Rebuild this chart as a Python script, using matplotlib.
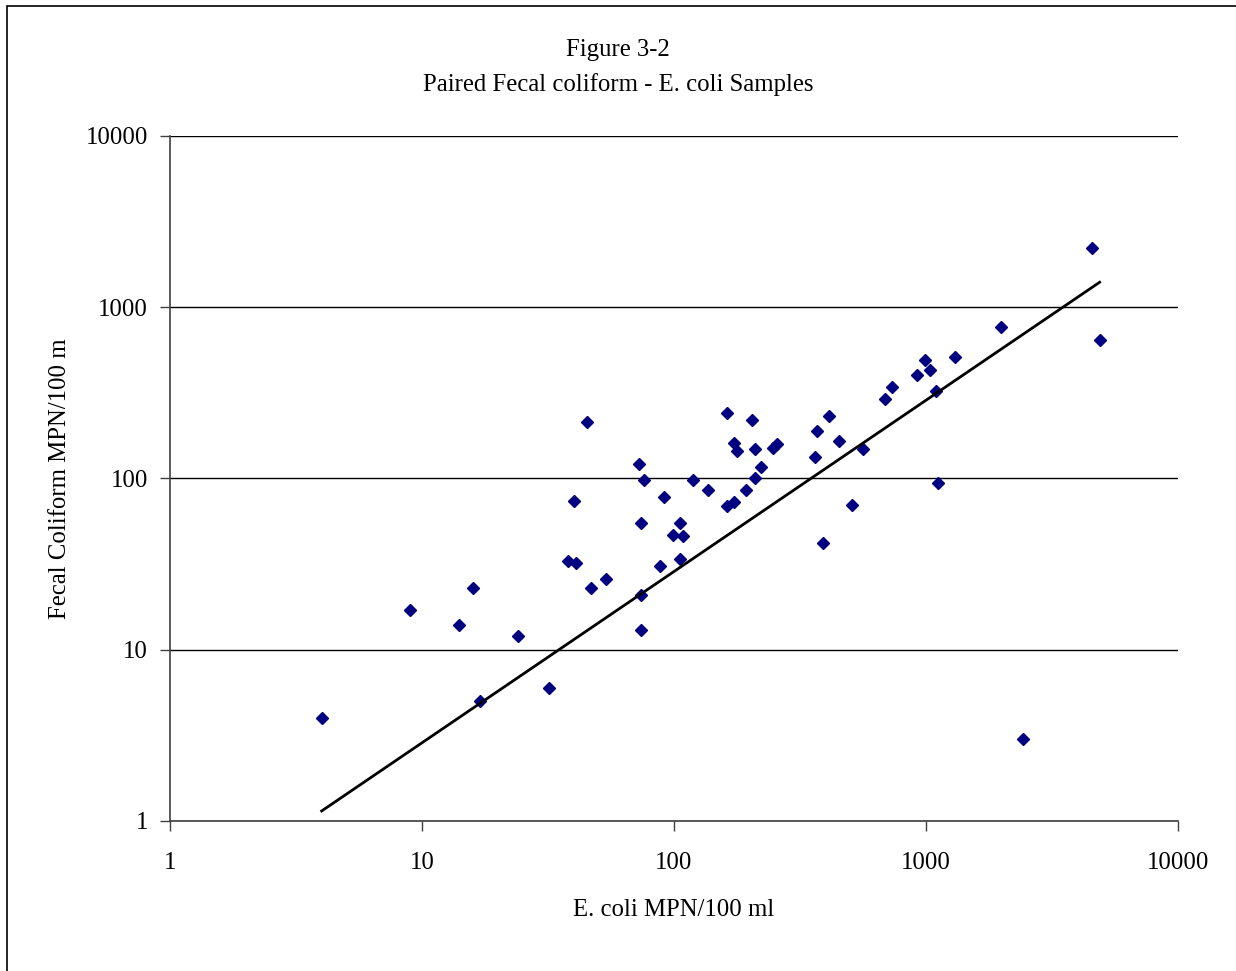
import numpy as np
import matplotlib
matplotlib.use("Agg")
import matplotlib.pyplot as plt
from matplotlib.patches import Rectangle

# paired samples, MPN/100 ml
ecoli = [4, 9, 14, 16, 17, 24, 32, 38, 40, 41, 45, 47, 54, 73, 74, 74, 74, 76,
         88, 91, 99, 106, 106, 109, 119, 136, 163, 163, 173, 173, 178, 205, 210,
         193, 210, 221, 248, 257, 368, 363, 413, 453, 507, 391, 561, 689, 735,
         1985, 4546, 4890, 1303, 991, 918, 1038, 1096, 1119, 2420]
fecal = [4, 17, 14, 23, 5, 12, 6, 33, 74, 32, 213, 23, 26, 122, 55, 21, 13, 98,
         31, 78, 47, 55, 34, 46, 98, 86, 242, 69, 73, 161, 145, 218, 149,
         86, 100, 116, 150, 159, 190, 133, 232, 166, 70, 42, 148, 290, 341,
         770, 2228, 644, 514, 492, 402, 430, 324, 94, 3]

# power trendline y = a * x^b
trend_a = 0.286
trend_b = 1.0

decades = [1, 10, 100, 1000, 10000]
tick_labels = ["1", "10", "100", "1000", "10000"]

plt.rcParams['font.family'] = ['Liberation Serif', 'DejaVu Serif']
fs = 17.8

fig = plt.figure(figsize=(12.36, 9.71), dpi=100)
ax = fig.add_axes([0.1375, 0.1545, 0.8155, 0.7055])

ax.set_xscale('log')
ax.set_yscale('log')
ax.set_xlim(1, 10000)
ax.set_ylim(1, 10000)

ax.yaxis.grid(True, color='black', linewidth=1.0)
ax.set_axisbelow(True)

ax.plot(ecoli, fecal, linestyle='None', marker='D', markersize=5.8,
        color='#000080', zorder=3)

xt = np.geomspace(min(ecoli), max(ecoli), 100)
ax.plot(xt, trend_a * xt ** trend_b, color='black', linewidth=2.0, zorder=4)

ax.set_xticks(decades)
ax.set_xticklabels(tick_labels)
ax.set_yticks(decades)
ax.set_yticklabels(tick_labels)
ax.minorticks_off()
ax.tick_params(direction='out', length=7, width=1, color='#404040',
               labelsize=fs)
ax.tick_params(axis='x', pad=15)
ax.tick_params(axis='y', pad=9)

for side in ['top', 'right']:
    ax.spines[side].set_visible(False)
for side in ['left', 'bottom']:
    ax.spines[side].set_color('#404040')
    ax.spines[side].set_linewidth(1.2)

ax.set_xlabel('E. coli MPN/100 ml', fontsize=fs, labelpad=18)
ax.set_ylabel('Fecal Coliform MPN/100 m', fontsize=fs, labelpad=10)

fig.text(0.5, 1 - 50 / 971, 'Figure 3-2', ha='center', va='center', fontsize=fs)
fig.text(0.5, 1 - 85 / 971, 'Paired Fecal coliform - E. coli Samples',
         ha='center', va='center', fontsize=fs)

# chart area border
fig.patches.append(Rectangle((7 / 1236, -0.1), 1.2, 1 - 6 / 971 + 0.1,
                             transform=fig.transFigure, fill=False,
                             edgecolor='black', linewidth=1.2))

fig.savefig('out.png', dpi=100)
